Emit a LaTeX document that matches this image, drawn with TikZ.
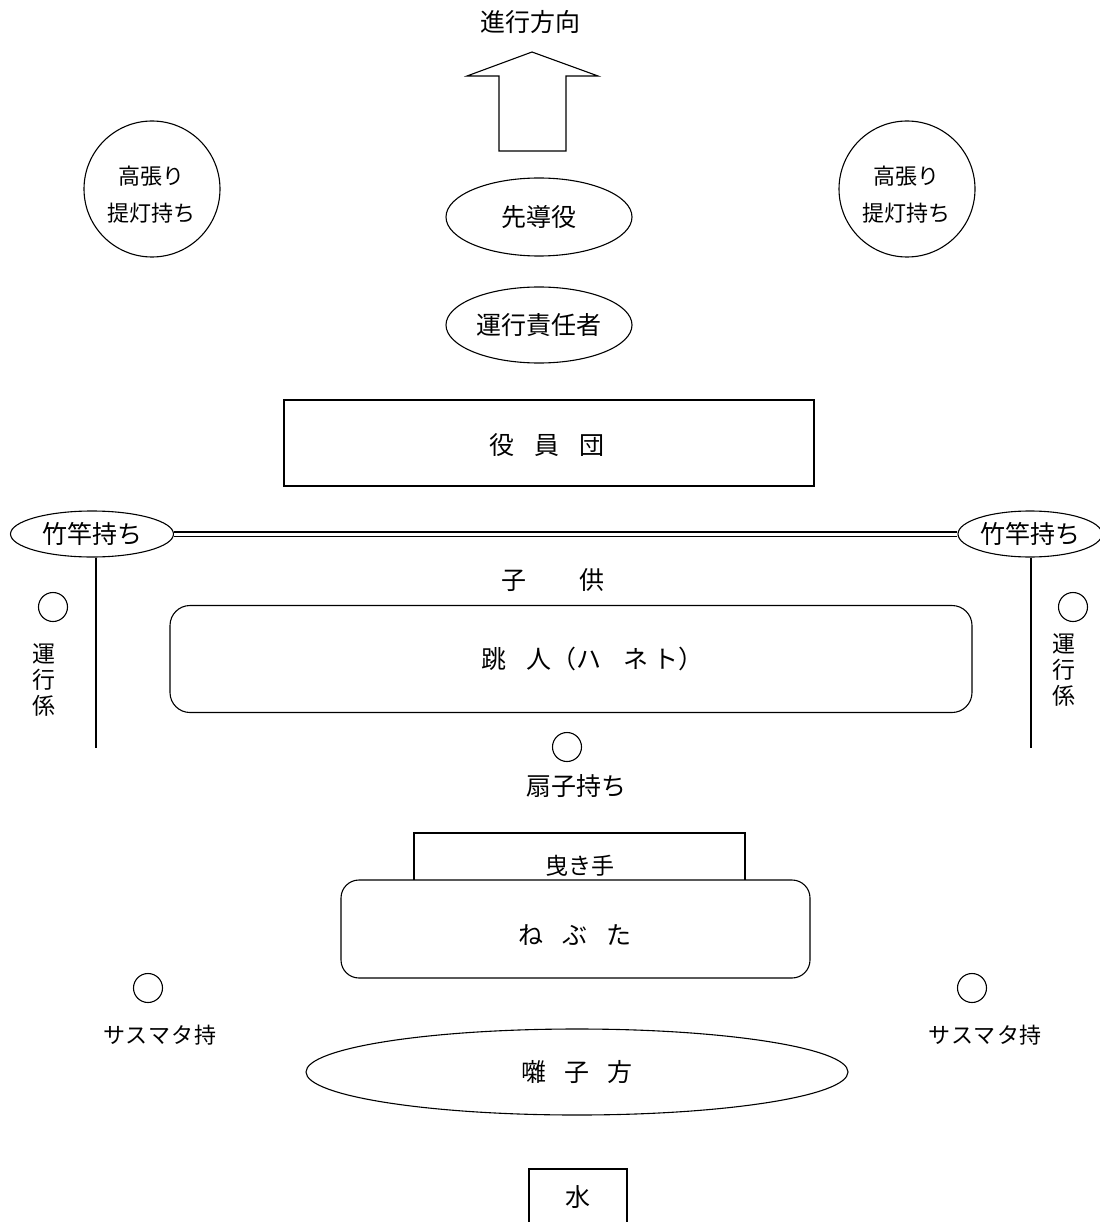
\documentclass[tikz,border=0pt]{standalone}
\usepackage{fontspec}
\setmainfont{Noto Sans CJK JP}
\usepackage{tikz}
\usetikzlibrary{shapes.geometric}
\tikzstyle{base} = [
    draw, line width=1.1pt, inner sep=0pt, text centered,
    font=\fontsize{25}{28}\selectfont,
]
\tikzstyle{oval} = [
    base, ellipse,
]
\tikzstyle{lantern} = [
    base, circle,
    minimum size=136pt,
]
\tikzstyle{group} = [
    base, rectangle,
]
\tikzstyle{float} = [
    base, rectangle,
    rounded corners=20pt,
    fill=white,
]
\tikzstyle{person} = [
    circle, draw, line width=1.1pt,
    minimum size=29pt, inner sep=0pt,
]
\tikzstyle{caption} = [
    inner sep=0pt, align=center,
    font=\fontsize{25}{28}\selectfont,
]
\tikzstyle{small} = [
    caption,
    font=\fontsize{22}{37}\selectfont,
]

\begin{document}
\begin{tikzpicture}[x=1pt, y=-1pt]
    \useasboundingbox (0,0) rectangle (1099,1222);

    % direction
    \node (heading) at (530,22) [caption] {進行方向};
    \draw [line width=1.1pt] (499,151) -- (499,76) -- (467,76) -- (532,52)
        -- (598,76) -- (566,76) -- (566,151) -- cycle;

    % front
    \foreach \side/\x in {L/152, R/907} {
        \node (lantern\side) at (\x,189) [lantern] {};
        \node (lantern\side text) at (\x-1,195) [small] {高張り\\提灯持ち};
    }
    \node (lead) at (539,217) [oval, minimum width=186pt, minimum height=78pt] {先導役};
    \node (chief) at (539,325) [oval, minimum width=186pt, minimum height=76pt] {運行責任者};
    \node (board) at (549,443) [group, minimum width=530pt, minimum height=86pt] {};
    \node (boardtext) at (547,445) [caption] {役\hspace{20pt}員\hspace{20pt}団};

    % bamboo poles
    \node (bambooL) at (92,534) [oval, minimum width=163pt, minimum height=46pt] {竹竿持ち};
    \node (bambooR) at (1030,534) [oval, minimum width=144pt, minimum height=46pt] {竹竿持ち};
    \draw [line width=1.2pt, double, double distance=3pt] (bambooL.east) -- (bambooR.west);
    \coordinate (poleL) at (96,748);
    \coordinate (poleR) at (1031,748);
    \draw [line width=1.1pt] (bambooL.south -| poleL) -- (poleL);
    \draw [line width=1.1pt] (bambooR.south -| poleR) -- (poleR);

    % staff
    \node (staffL) at (53,607) [person] {};
    \node (staffR) at (1073,607) [person] {};
    \node (staffLtext) at (44,680) [caption, font=\fontsize{23}{26}\selectfont] {運\\行\\係};
    \node (staffRtext) at (1064,670) [caption, font=\fontsize{23}{26}\selectfont] {運\\行\\係};

    % dancers
    \node (children) at (553,580) [caption] {子\hspace{53pt}供};
    \node (haneto) at (571,659) [float, minimum width=802pt, minimum height=107pt] {};
    \node (hanetotext) at (592,659) [caption] {跳\hspace{20pt}人（ハ\hspace{22pt}ネ\hspace{5pt}ト）};
    \node (fan) at (567,747) [person] {};
    \node (fantext) at (576,786) [caption] {扇子持ち};

    % float
    \node (hikite) at (579.5,866) [group, minimum width=331pt, minimum height=66pt, font=\fontsize{23}{26}\selectfont] {曳き手};
    \node (nebuta) at (575.5,929) [float, minimum width=469pt, minimum height=98pt, rounded corners=18pt] {};
    \node (nebutatext) at (575,935) [caption] {ね\hspace{19pt}ぶ\hspace{19pt}た};

    % sasumata
    \foreach \side/\x/\t in {L/148/160, R/972/985} {
        \node (sasumata\side) at (\x,988) [person] {};
        \node (sasumata\side text) at (\t,1035) [small] {サ\hspace{1pt}ス\hspace{1pt}マ\hspace{1pt}タ\hspace{1pt}持};
    }

    % rear
    \node (hayashi) at (577,1072) [oval, minimum width=542pt, minimum height=86pt] {囃\hspace{18pt}子\hspace{18pt}方};
    \node (water) at (578,1197) [group, minimum width=98pt, minimum height=56pt] {水};
\end{tikzpicture}
\end{document}
